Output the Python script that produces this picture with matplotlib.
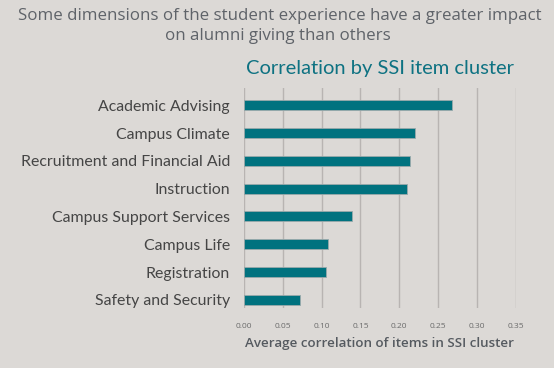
import matplotlib
matplotlib.use("Agg")
import matplotlib.pyplot as plt

# SSI item clusters and their average correlation with alumni giving
clusters = ["Academic Advising", "Campus Climate", "Recruitment and Financial Aid",
            "Instruction", "Campus Support Services", "Campus Life",
            "Registration", "Safety and Security"]
corr = [0.268, 0.2205, 0.214, 0.210, 0.139, 0.108, 0.106, 0.072]
xticks = [0.00, 0.05, 0.10, 0.15, 0.20, 0.25, 0.30, 0.35]

bg = "#dcd9d6"
teal = "#00727f"

plt.rcParams["font.family"] = ["Open Sans", "DejaVu Sans"]

fig = plt.figure(figsize=(5.54, 3.68), dpi=100, facecolor=bg)
ax = fig.add_axes([0.4404, 0.164, 0.931 - 0.4404, 0.761 - 0.164])
ax.set_facecolor(bg)

ypos = list(range(len(clusters)))
ax.barh(ypos, corr, height=0.36, color=teal, edgecolor="#9aa9ab", linewidth=0.6, zorder=3)

ax.set_xlim(0, 0.35)
ax.set_ylim(7.28, -0.62)
ax.set_xticks(xticks)
ax.set_xticklabels(["%.2f" % t for t in xticks], fontsize=6, color="#6b6b6b")
ax.set_yticks(ypos)
ax.set_yticklabels(clusters, fontsize=11.4, color="#454545", family=["Lato", "DejaVu Sans"])
ax.tick_params(axis="both", length=0)
ax.tick_params(axis="x", pad=11)
ax.tick_params(axis="y", pad=10)
ax.grid(axis="x", color="#b8b4b2", linewidth=1.0, zorder=0)
ax.set_axisbelow(True)
for s in ax.spines.values():
    s.set_visible(False)

ax.set_xlabel("Average correlation of items in SSI cluster", fontsize=9.6,
              color="#555a60", fontweight="semibold", labelpad=5)

fig.text(0.505, 0.957, "Some dimensions of the student experience have a greater impact",
         ha="center", va="center", fontsize=12.2, color="#5f6369")
fig.text(0.502, 0.903, "on alumni giving than others",
         ha="center", va="center", fontsize=12.2, color="#5f6369")
fig.text(0.686, 0.815, "Correlation by SSI item cluster", ha="center", va="center",
         fontsize=14.5, color="#0e7282", family=["Lato", "DejaVu Sans"])

fig.savefig("out.png", dpi=100, facecolor=bg)
